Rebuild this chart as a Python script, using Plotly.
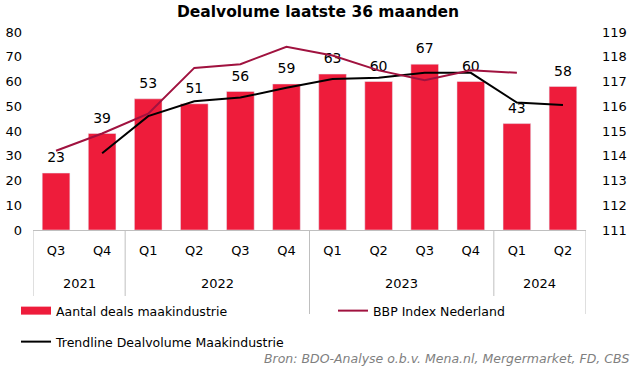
import plotly.graph_objects as go

years = ["2021", "2021", "2022", "2022", "2022", "2022", "2023", "2023", "2023", "2023", "2024", "2024"]
quarters = ["Q3", "Q4", "Q1", "Q2", "Q3", "Q4", "Q1", "Q2", "Q3", "Q4", "Q1", "Q2"]
deals = [23, 39, 53, 51, 56, 59, 63, 60, 67, 60, 43, 58]
bbp = [114.2, 114.9, 115.7, 117.55, 117.7, 118.4, 118.05, 117.45, 117.05, 117.45, 117.35, None]
trend = [None, 31, 46, 52, 53.5, 57.5, 61, 61.5, 63.5, 63.5, 51.5, 50.5]
left_ticks = [0, 10, 20, 30, 40, 50, 60, 70, 80]
right_ticks = [111, 112, 113, 114, 115, 116, 117, 118, 119]

FONT = "DejaVu Sans"
BAR_RED = "#EE1C3B"
BBP_RED = "#A0123F"
GRID = "#BFBFBF"

idx = list(range(len(quarters)))

# year groups (start, end index) derived from the years list
groups = []
for i, yv in enumerate(years):
    if groups and groups[-1][0] == yv:
        groups[-1][2] = i
    else:
        groups.append([yv, i, i])

fig = go.Figure()
fig.add_trace(go.Bar(x=idx, y=deals, name="Aantal deals maakindustrie",
                     marker_color=BAR_RED, width=0.6, showlegend=False))
# legend stand-in for the bar series (wide red block like the reference)
fig.add_trace(go.Scatter(x=[None], y=[None], name="Aantal deals maakindustrie", mode="lines",
                         line=dict(color=BAR_RED, width=8), legend="legend"))
fig.add_trace(go.Scatter(x=idx, y=bbp, name="BBP Index Nederland", mode="lines",
                         line=dict(color=BBP_RED, width=2), yaxis="y2", legend="legend3"))
fig.add_trace(go.Scatter(x=idx, y=trend, name="Trendline Dealvolume Maakindustrie", mode="lines",
                         line=dict(color="black", width=2), legend="legend2"))
fig.add_trace(go.Scatter(x=idx, y=deals, mode="markers+text", text=[str(v) for v in deals],
                         textposition="top center", marker=dict(size=10, opacity=0),
                         textfont=dict(size=14, color="black", family=FONT),
                         showlegend=False, hoverinfo="skip", cliponaxis=False))

shapes = []
bounds = [groups[0][1] - 0.5] + [g[2] + 0.5 for g in groups]
for b in bounds:
    shapes.append(dict(type="line", xref="x", yref="paper", x0=b, x1=b, y0=0, y1=-84 / 198,
                       line=dict(color=GRID, width=1)))

annotations = []
for name, s, e in groups:
    annotations.append(dict(text=name, xref="x", yref="paper", x=(s + e) / 2, y=0,
                            yshift=-53, yanchor="middle", showarrow=False,
                            font=dict(size=13, family=FONT, color="black")))
annotations.append(dict(text="<i>Bron: BDO-Analyse o.b.v. Mena.nl, Mergermarket, FD, CBS</i>",
                        xref="paper", yref="paper", x=1, y=0, xanchor="right", yanchor="middle",
                        xshift=46, yshift=-128, showarrow=False,
                        font=dict(size=12.5, color="#7F7F7F", family=FONT)))

legend_common = dict(orientation="h", xref="container", yref="container",
                     xanchor="left", yanchor="middle", font=dict(size=12.5))

fig.update_layout(
    width=636, height=367,
    margin=dict(l=33, r=50, t=32, b=137),
    plot_bgcolor="white", paper_bgcolor="white",
    font=dict(family=FONT, size=13, color="black"),
    title=dict(text="<b>Dealvolume laatste 36 maanden</b>", x=0.5, xref="container",
               xanchor="center", y=1 - 12 / 367, yref="container", yanchor="middle",
               font=dict(size=15.5, family=FONT)),
    xaxis=dict(range=[-0.5, len(idx) - 0.5], tickvals=idx, ticktext=quarters,
               showline=True, linecolor=GRID, linewidth=1, showgrid=False, zeroline=False,
               ticks="", tickfont=dict(size=13), automargin=False, ticklabelstandoff=8),
    yaxis=dict(range=[0, 80], tickvals=left_ticks, showgrid=False, zeroline=False,
               showline=False, tickfont=dict(size=13), ticklabelstandoff=10, automargin=False),
    yaxis2=dict(range=[111, 119], tickvals=right_ticks, overlaying="y", side="right",
                showgrid=False, zeroline=False, showline=False, tickfont=dict(size=13),
                ticklabelstandoff=15, automargin=False),
    legend=dict(x=16 / 636, y=1 - 311 / 367, **legend_common),
    legend3=dict(x=333 / 636, y=1 - 311 / 367, **legend_common),
    legend2=dict(x=16 / 636, y=1 - 342 / 367, **legend_common),
    shapes=shapes,
    annotations=annotations,
)

fig.write_html("out.html", config={"displayModeBar": False},
               post_script="document.body.style.margin='0';")
